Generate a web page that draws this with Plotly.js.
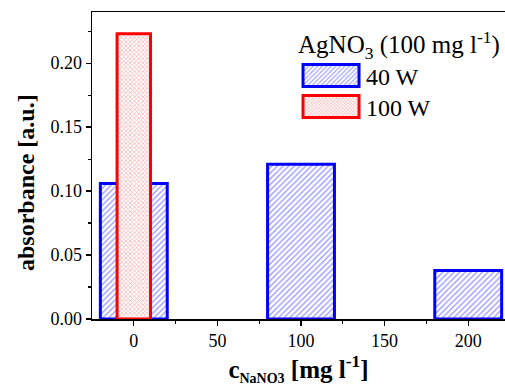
<!DOCTYPE html>
<html><head><meta charset="utf-8">
<script src="https://cdn.plot.ly/plotly-3.0.1.min.js"></script>
<style>html,body{margin:0;padding:0;background:#fff}#chart{width:505px;height:386px}</style>
</head><body><div id="chart"></div>
<script>
// ---- data ----
const concentration40W = [0, 100, 200];
const absorbance40W = [0.106, 0.121, 0.038];
const concentration100W = [0];
const absorbance100W = [0.223];
const seriesNames = ['40 W', '100 W'];
const legendTitle = 'AgNO<sub>3</sub> (100 mg l<sup>-1</sup>)';
const xTickValues = [0, 50, 100, 150, 200];
const xTickLabels = ['0', '50', '100', '150', '200'];
const xMinorTicks = [25, 75, 125, 175];
const yTickValues = [0, 0.05, 0.10, 0.15, 0.20];
const yTickLabels = ['0.00', '0.05', '0.10', '0.15', '0.20'];
const yMinorTicks = [0.025, 0.075, 0.125, 0.175, 0.225];
const xTitle = '<b>c<sub><span style="font-size:14px">NaNO3</span></sub> [mg l<sup>-1</sup>]</b>';
const yTitle = '<b>absorbance [a.u.]</b>';

const FONT = 'Liberation Serif';

const traces = [
  {type: 'bar', name: seriesNames[0], x: concentration40W, y: absorbance40W, width: 40,
   marker: {color: '#0000ff', line: {color: '#0000ff', width: 3},
            pattern: {shape: '/', fgcolor: '#9c9cff', bgcolor: '#ffffff', size: 4, solidity: 0.35}}},
  {type: 'bar', name: seriesNames[1], x: concentration100W, y: absorbance100W, width: 20,
   marker: {color: '#ff0000', line: {color: '#ff0000', width: 3},
            pattern: {shape: 'x', fgcolor: '#ff9a9a', bgcolor: '#ffffff', size: 3, solidity: 0.35}}}
];

const axisCommon = {
  ticks: 'outside', ticklen: 5, tickwidth: 1.3, tickcolor: '#000',
  showline: true, linecolor: '#000', linewidth: 1.5,
  showgrid: false, zeroline: false,
  tickfont: {family: FONT, size: 18, color: '#000'}
};

const layout = {
  width: 505, height: 386,
  margin: {l: 92, r: 0, t: 12, b: 67},
  paper_bgcolor: '#fff', plot_bgcolor: '#fff',
  barmode: 'overlay', showlegend: true,
  font: {family: FONT, color: '#000', size: 18},
  xaxis: Object.assign({}, axisCommon, {
    range: [-25, 222], tickmode: 'array', tickvals: xTickValues, ticktext: xTickLabels,
    mirror: true,
    minor: {ticks: 'outside', ticklen: 3, tickwidth: 1.2, tickcolor: '#000', tickvals: xMinorTicks, showgrid: false},
    title: {text: xTitle, font: {family: FONT, size: 25, color: '#000'}, standoff: 5}
  }),
  yaxis: Object.assign({}, axisCommon, {
    range: [0, 0.24], tickmode: 'array', tickvals: yTickValues, ticktext: yTickLabels,
    minor: {ticks: 'outside', ticklen: 3, tickwidth: 1.2, tickcolor: '#000', tickvals: yMinorTicks, showgrid: false}
  }),
  legend: {
    x: 0.494, y: 0.971, xanchor: 'left', yanchor: 'top',
    bgcolor: 'rgba(0,0,0,0)', borderwidth: 0,
    font: {family: FONT, size: 24, color: '#000'},
    title: {text: legendTitle, font: {family: FONT, size: 25, color: '#000'}},
    itemwidth: 60, tracegroupgap: 0
  },
  annotations: [{
    text: yTitle, xref: 'paper', yref: 'paper', x: -0.16, y: 0.446,
    xanchor: 'center', yanchor: 'middle', textangle: -90, showarrow: false,
    font: {family: FONT, size: 24, color: '#000'}
  }]
};

Plotly.newPlot('chart', traces, layout, {staticPlot: true, displayModeBar: false}).then(function (gd) {
  const items = gd.querySelectorAll('.legend .traces');
  let firstY = null, idx = 0;
  items.forEach(function (tr) {
    const p = tr.querySelector('.legendpoints path');
    const t = tr.querySelector('text.legendtext');
    if (p && t) {
      const pb = p.getBoundingClientRect();
      const tb = t.getBoundingClientRect();
      const cx = (pb.left + pb.right) / 2;
      const right = tb.left - 7 - cx, left = right - 56;
      p.setAttribute('d', 'M' + left + ',11H' + right + 'V-11H' + left + 'Z');
      p.style.strokeWidth = '3px';
    }
    // tighten the spacing between legend rows to match the reference
    const m = /translate\(\s*([-\d.]+)[ ,]+([-\d.]+)\s*\)/.exec(tr.getAttribute('transform') || '');
    if (m) {
      const x = parseFloat(m[1]), y = parseFloat(m[2]);
      if (firstY === null) firstY = y;
      tr.setAttribute('transform', 'translate(' + x + ',' + (firstY + idx * 31) + ')');
    }
    idx++;
  });
});
</script>
</body></html>
